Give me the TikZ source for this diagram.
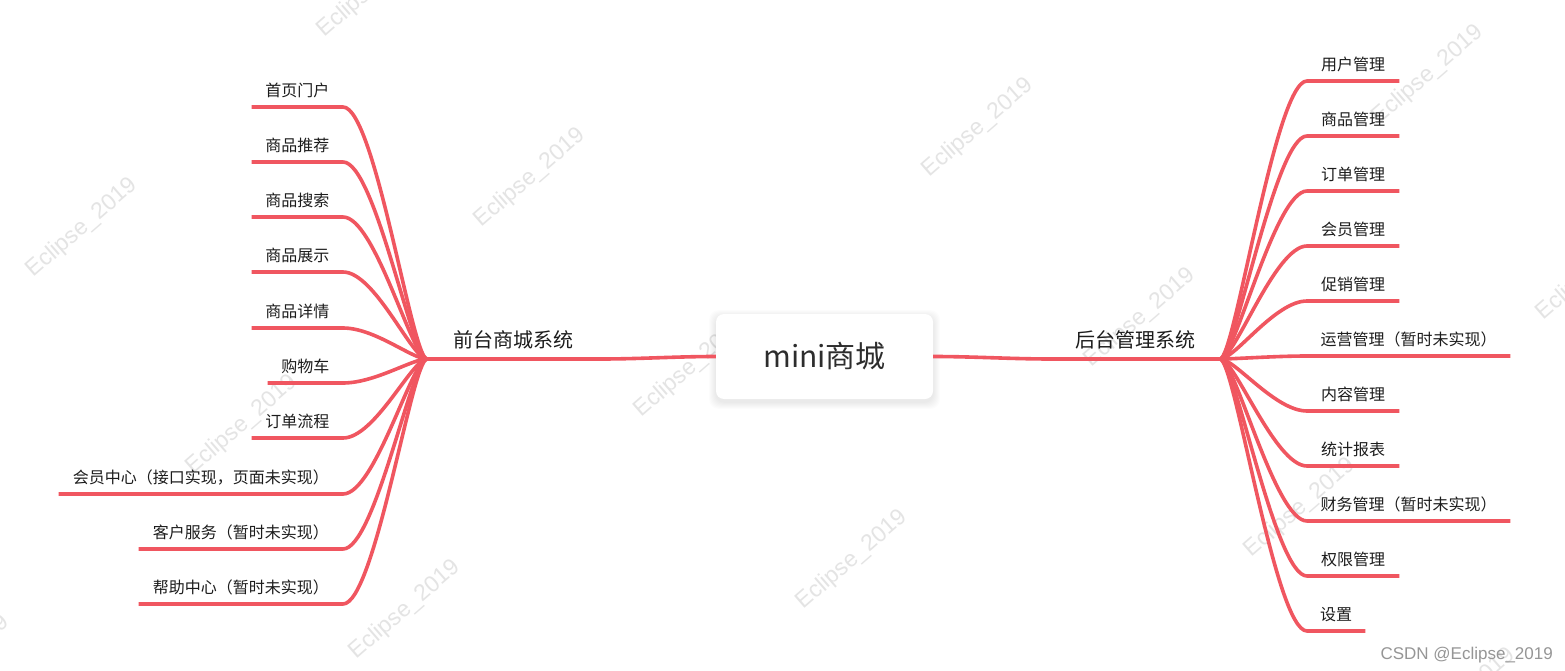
\documentclass[tikz,border=0pt]{standalone}
\usepackage{fontspec}
\setmainfont{Noto Sans CJK SC}
\newfontfamily\wmfont{Liberation Sans}
\definecolor{br}{RGB}{240,86,96}
\definecolor{tx}{RGB}{28,28,28}
\definecolor{wmc}{RGB}{228,228,228}
\begin{document}
\begin{tikzpicture}[x=1pt,y=-1pt,
  branch/.style={draw=br, line width=3.6pt},
  leaf/.style={font=\fontsize{16}{16}\selectfont, text=tx, inner xsep=0pt, inner ysep=6pt, text height=12pt, text depth=4pt},
  mainlbl/.style={font=\fontsize{20}{20}\selectfont, text=tx, inner xsep=0pt, inner ysep=6.5pt, text height=15pt, text depth=5pt},
  centerbox/.style={fill=white, rounded corners=8pt, minimum width=217pt, minimum height=85pt, inner sep=0pt, font=\fontsize{30}{30}\selectfont, text={rgb,255:red,45;green,45;blue,45}},
  wm/.style={font=\wmfont\fontsize{23}{23}\selectfont, text=wmc, rotate=41}
]
\useasboundingbox (0,0) rectangle (1565,671);
\fill[white] (0,0) rectangle (1565,671);
% watermarks
\foreach \a/\b [count=\k] in {373/-12, 530/178, 690/368, 852/560, 82/228, 242/425, 405/610, 978/128, 1140/318, 1300/508, 1460/698, 1428/75, 1592/271, -46/665}
  \node[wm] (wm\k) at (\a,\b) {Eclipse\_2019};
% soft shadow of centre box
\foreach \i in {1,...,7}
  \fill[black, opacity=0.012, rounded corners=10pt] (716-\i,314-\i+3) rectangle (933+\i,399+\i+3);
\node[centerbox] (C) at (824.5,356.5) {mini商城};
% main branches
\node[mainlbl, minimum width=173pt, anchor=south west] (ML) at (427,359) {前台商城系统};
\node[mainlbl, minimum width=168pt, anchor=south east] (MR) at (1220,359) {后台管理系统};
\draw[branch] (C.west) .. controls +(-40,0) and +(40,0) .. (ML.south east) -- (ML.south west);
\draw[branch] (C.east) .. controls +(40,0) and +(-40,0) .. (MR.south west) -- (MR.south east);
% left leaves
\foreach \n/\w/\y/\t in {L1/91/107/首页门户, L2/91/162/商品推荐, L3/91/217/商品搜索, L4/91/272/商品展示, L5/91/328/商品详情, L6/75/383/购物车, L7/91/438/订单流程, L8/284/494/会员中心（接口实现，页面未实现）, L9/204/549/客户服务（暂时未实现）, L10/204/604/帮助中心（暂时未实现）}{
  \node[leaf, minimum width=\w pt, anchor=south east] (\n) at (343,\y) {\t};
  \draw[branch] (ML.south west) .. controls +(-15,0) and +(32,0) .. (\n.south east) -- (\n.south west);
}
% right leaves
\foreach \n/\w/\y/\t in {R1/92/81/用户管理, R2/92/136/商品管理, R3/92/191/订单管理, R4/92/246/会员管理, R5/92/301/促销管理, R6/203/356/运营管理（暂时未实现）, R7/92/411/内容管理, R8/92/466/统计报表, R9/203/521/财务管理（暂时未实现）, R10/92/576/权限管理, R11/58/631/设置}{
  \node[leaf, minimum width=\w pt, anchor=south west] (\n) at (1307,\y) {\t};
  \draw[branch] (MR.south east) .. controls +(15,0) and +(-32,0) .. (\n.south west) -- (\n.south east);
}
\node[font=\wmfont\fontsize{17}{17}\selectfont, text={rgb,255:red,150;green,150;blue,150}, anchor=base east, inner sep=0pt] (csdn) at (1553,659.5) {CSDN @Eclipse\_2019};
\end{tikzpicture}
\end{document}
